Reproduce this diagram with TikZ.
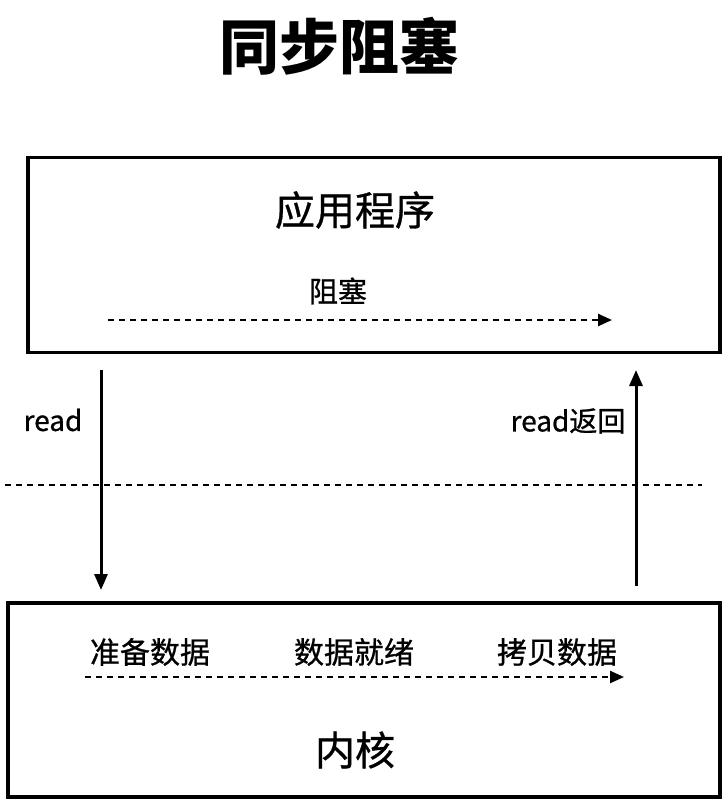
\documentclass[tikz,border=0pt]{standalone}
\usepackage{fontspec}
\setmainfont{Noto Sans CJK SC}
\newfontfamily\medfont{Noto Sans CJK SC}[BoldFont={Noto Sans CJK SC}, BoldFeatures={FakeBold=0.8}]
\usepackage{tikz}
\usetikzlibrary{arrows.meta,positioning,calc}
\tikzset{
  kbox/.style={rectangle, draw=black, line width=3.5pt, inner sep=0pt},
  arr/.style={-{Triangle[length=16pt,width=13pt]}, line width=3pt, color=black},
  darr/.style={-{Triangle[length=14pt,width=12pt]}, line width=2.4pt, dash pattern=on 6pt off 5pt},
  lbl/.style={inner sep=0pt, font=\fontsize{30}{34}\medfont\bfseries},
}

\begin{document}
\begin{tikzpicture}[x=1pt, y=-1pt]
    \useasboundingbox (0,0) rectangle (728,803);
    \node[inner sep=0pt, font=\fontsize{60}{66}\selectfont\bfseries] (title) at (339,46) {同步阻塞};
    % user space
    \node[kbox, minimum width=692pt, minimum height=195pt] (app) at (374,255) {};
    \node[inner sep=0pt, font=\fontsize{40}{44}\medfont\bfseries] (appname) at (355,210) {应用程序};
    \node[lbl, font=\fontsize{29}{32}\medfont\bfseries] (block) at (338,291) {阻塞};
    \coordinate (bs) at (108,320); \coordinate (be) at (612,320);
    \draw[darr] (bs)--(be);
    % kernel space
    \node[kbox, minimum width=712pt, minimum height=194pt] (kernel) at (364,700) {};
    \node[lbl] (prep) at (150,652) {准备数据};
    \node[lbl] (ready) at (354,652) {数据就绪};
    \node[lbl] (copy) at (557,652) {拷贝数据};
    \node[inner sep=0pt, font=\fontsize{40}{44}\medfont\bfseries] (kname) at (355,750) {内核};
    \coordinate (ks) at (85,677); \coordinate (ke) at (624,677);
    \draw[darr] (ks)--(ke);
    % system call
    \coordinate (rs) at (101,370); \coordinate (re) at (101,590);
    \coordinate (ws) at (636,586); \coordinate (we) at (636,370);
    \draw[arr] (rs)--(re);
    \draw[arr] (ws)--(we);
    \node[lbl, font=\fontsize{28}{32}\medfont\bfseries] (read) at (53,420) {read};
    \node[lbl, font=\fontsize{28}{32}\medfont\bfseries] (back) at (568,421) {read返回};
    \coordinate (ls) at (5,485); \coordinate (le) at (702,485);
    \draw[line width=2.4pt, dash pattern=on 6pt off 5pt] (ls)--(le);
\end{tikzpicture}
\end{document}
